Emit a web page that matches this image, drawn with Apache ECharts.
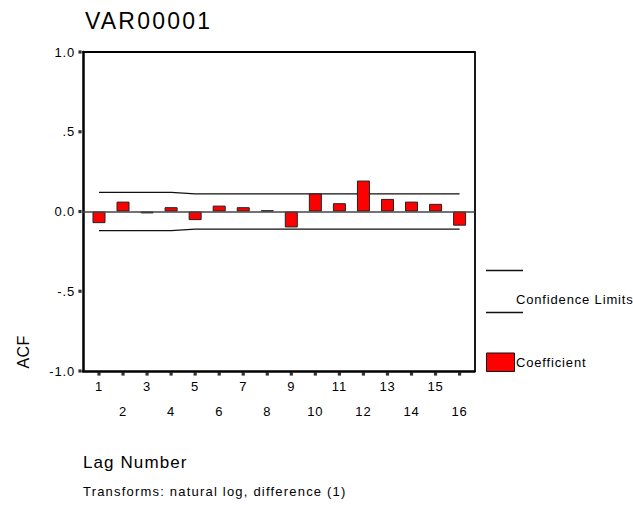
<!DOCTYPE html>
<html>
<head>
<meta charset="utf-8">
<script src="https://cdn.jsdelivr.net/npm/echarts@6/dist/echarts.min.js"></script>
<style>
  html, body { margin: 0; padding: 0; background: #fff; }
  #chart { width: 633px; height: 513px; }
</style>
</head>
<body>
<div id="chart"></div>
<script>
// Autocorrelation of VAR00001 (log-differenced) by lag
const lags = [1, 2, 3, 4, 5, 6, 7, 8, 9, 10, 11, 12, 13, 14, 15, 16];
const acf = [-0.073, 0.062, -0.012, 0.027, -0.054, 0.037, 0.027, 0.008, -0.100, 0.113, 0.052, 0.194, 0.079, 0.062, 0.048, -0.089];
const upperLimit = [0.12, 0.12, 0.12, 0.12, 0.11, 0.11, 0.11, 0.11, 0.11, 0.11, 0.11, 0.11, 0.11, 0.11, 0.11, 0.11];
const lowerLimit = [-0.12, -0.12, -0.12, -0.12, -0.11, -0.11, -0.11, -0.11, -0.11, -0.11, -0.11, -0.11, -0.11, -0.11, -0.11, -0.11];
const yTicks = [-1, -0.5, 0, 0.5, 1];
const yTickLabels = ['-1.0', '-.5', '0.0', '.5', '1.0'];

const FONT = '"Liberation Sans", Arial, sans-serif';
const chart = echarts.init(document.getElementById('chart'), null, { renderer: 'svg' });

const pairs = (ys) => lags.map((x, i) => [x, ys[i]]);
const X_MIN = 0.335, X_MAX = 16.62;
const Y_MIN = -1, Y_MAX = 1;

// small square tick marks just outside the left and bottom axis lines
const tickMarkSeries = (data, offset) => ({
  type: 'scatter',
  xAxisIndex: 0,
  yAxisIndex: 0,
  data,
  symbol: 'rect',
  symbolSize: 3.2,
  symbolOffset: offset,
  itemStyle: { color: '#000' },
  clip: false,
  silent: true,
  z: 5
});

chart.setOption({
  animation: false,
  backgroundColor: '#fff',
  textStyle: { fontFamily: FONT },
  title: {
    text: 'VAR00001',
    left: 80,
    top: 4,
    textStyle: { fontFamily: FONT, fontSize: 23, fontWeight: 'normal', color: '#000' }
  },
  grid: { left: 83, right: 158.5, top: 52, bottom: 142 },
  xAxis: [
    {
      type: 'value',
      position: 'bottom',
      min: X_MIN,
      max: X_MAX,
      axisLine: { show: true, onZero: false, lineStyle: { color: '#000', width: 2.5 } },
      axisTick: { show: false },
      splitLine: { show: false },
      axisLabel: {
        show: true,
        customValues: lags,
        margin: 3,
        fontSize: 13,
        color: '#000',
        lineHeight: 25,
        fontFamily: FONT,
        formatter: (v) => (v % 2 === 1 ? String(v) : '\n' + v)
      }
    },
    {
      // top edge of the frame
      type: 'value',
      position: 'top',
      min: X_MIN,
      max: X_MAX,
      axisLine: { show: true, onZero: false, lineStyle: { color: '#000', width: 1.8 } },
      axisTick: { show: false },
      axisLabel: { show: false },
      splitLine: { show: false }
    }
  ],
  yAxis: [
    {
      type: 'value',
      position: 'left',
      min: Y_MIN,
      max: Y_MAX,
      interval: 0.5,
      axisLine: { show: true, onZero: false, lineStyle: { color: '#000', width: 2.5 } },
      axisTick: { show: false },
      splitLine: { show: false },
      axisLabel: {
        show: true,
        margin: 8,
        fontSize: 13,
        color: '#000',
        fontFamily: FONT,
        formatter: (v) => yTickLabels[yTicks.indexOf(v)]
      }
    },
    {
      // right edge of the frame
      type: 'value',
      position: 'right',
      min: Y_MIN,
      max: Y_MAX,
      interval: 0.5,
      axisLine: { show: true, onZero: false, lineStyle: { color: '#000', width: 1.8 } },
      axisTick: { show: false },
      axisLabel: { show: false },
      splitLine: { show: false }
    }
  ],
  series: [
    {
      name: 'Coefficient',
      type: 'bar',
      xAxisIndex: 0,
      yAxisIndex: 0,
      data: pairs(acf),
      barWidth: 13,
      itemStyle: { color: '#ff0000', borderColor: '#222', borderWidth: 1 },
      markLine: {
        silent: true,
        symbol: 'none',
        label: { show: false },
        lineStyle: { color: '#444', width: 1.5, type: 'solid' },
        data: [{ yAxis: 0 }]
      },
      z: 3
    },
    {
      name: 'Confidence Limits',
      type: 'line',
      xAxisIndex: 0,
      yAxisIndex: 0,
      data: pairs(upperLimit),
      symbol: 'none',
      lineStyle: { color: '#111', width: 1.3 },
      z: 2
    },
    {
      name: 'Confidence Limits',
      type: 'line',
      xAxisIndex: 0,
      yAxisIndex: 0,
      data: pairs(lowerLimit),
      symbol: 'none',
      lineStyle: { color: '#111', width: 1.3 },
      z: 2
    },
    tickMarkSeries(lags.map((x) => [x, Y_MIN]), [0, 3]),
    tickMarkSeries(yTicks.map((y) => [X_MIN, y]), [-3, 0])
  ],
  graphic: [
    // legend: confidence limits
    { type: 'line', shape: { x1: 486, y1: 270.5, x2: 523, y2: 270.5 }, style: { stroke: '#111', lineWidth: 1.3 } },
    { type: 'line', shape: { x1: 486, y1: 312.5, x2: 523, y2: 312.5 }, style: { stroke: '#111', lineWidth: 1.3 } },
    { type: 'text', x: 516, y: 299, style: { text: 'Confidence Limits', fill: '#000', font: '13px ' + FONT, textVerticalAlign: 'middle' } },
    // legend: coefficient
    { type: 'rect', shape: { x: 486.5, y: 353, width: 28, height: 18.5 }, style: { fill: '#ff0000', stroke: '#111', lineWidth: 1 } },
    { type: 'text', x: 516, y: 362.5, style: { text: 'Coefficient', fill: '#000', font: '13px ' + FONT, textVerticalAlign: 'middle' } },
    // axis titles and footnote
    { type: 'text', x: 23, y: 352, rotation: Math.PI / 2, style: { text: 'ACF', fill: '#000', font: '16px ' + FONT, textAlign: 'center', textVerticalAlign: 'middle' } },
    { type: 'text', x: 83, y: 462, style: { text: 'Lag Number', fill: '#000', font: '17px ' + FONT, textVerticalAlign: 'middle' } },
    { type: 'text', x: 83, y: 491.5, style: { text: 'Transforms: natural log, difference (1)', fill: '#000', font: '13px ' + FONT, textVerticalAlign: 'middle' } }
  ]
});

// Widen the tracking of the text a little (the SVG renderer keeps text as <text> nodes)
const tracking = { 'VAR00001': 2.2, 'Transforms: natural log, difference (1)': 1.2, 'ACF': 0.4 };
function applyTracking() {
  document.querySelectorAll('#chart svg text').forEach((t) => {
    const txt = t.textContent;
    const fs = parseFloat(getComputedStyle(t).fontSize) || 12;
    const s = tracking[txt] !== undefined ? tracking[txt] : +(fs * 0.065).toFixed(2);
    t.setAttribute('letter-spacing', s + 'px');
  });
}
chart.on('finished', applyTracking);
applyTracking();
</script>
</body>
</html>
